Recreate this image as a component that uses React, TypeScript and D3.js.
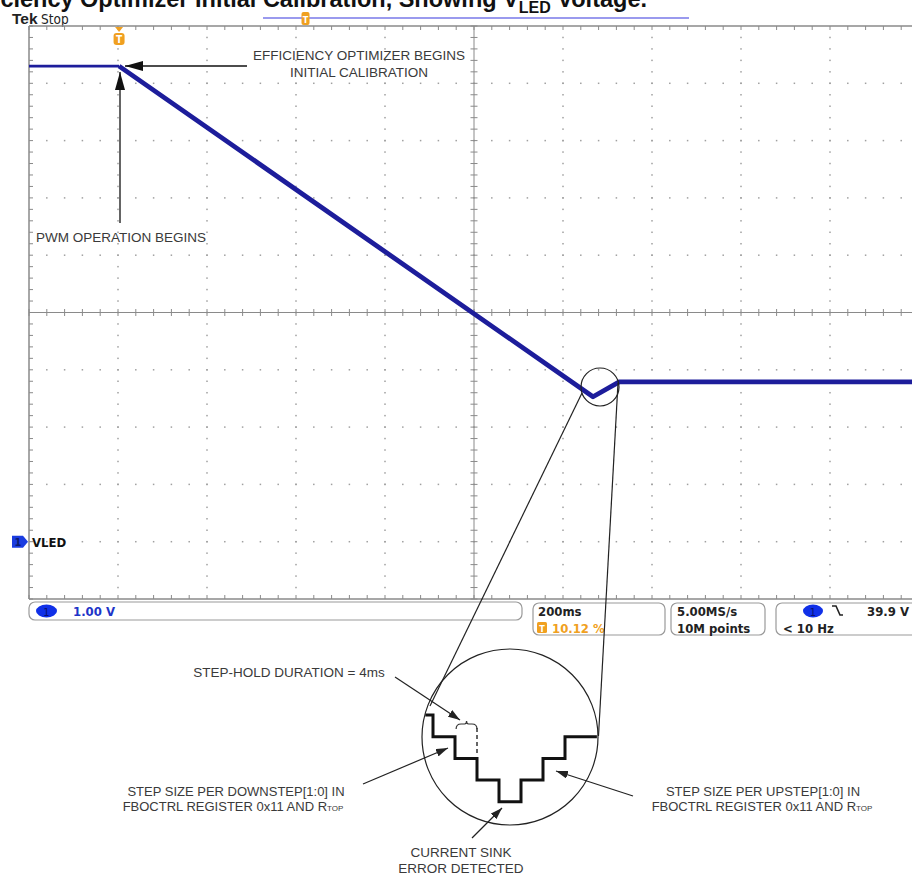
import React from "react";
import * as d3 from "d3";

// ---- data ----
const timePerDiv = 200; // ms
const triggerPercent = 10.12;
const voltsPerDiv = 1.0;
const traceTimes = [-202.4, 0, 1065, 1124, 1797.6]; // ms
const traceVolts = [8.3, 8.3, 2.53, 2.79, 2.79]; // V
const stairEdges = [-0.35, 0, 1, 2, 3, 4, 5, 6, 7.45];
const stairLevels = [0, 1, 2, 3, 4, 3, 2, 1];
const statusLabels = ["1.00 V", "200ms", "10.12 %", "5.00MS/s", "10M points", "39.9 V", "< 10 Hz"];

const ANN = "'Liberation Sans', Arial, sans-serif";
const TEK = "'DejaVu Sans Condensed', 'DejaVu Sans', sans-serif";
const TRACE = "#1d1d9b";
const ORANGE = "#f0a020";
const ANN_COL = "#3a3a3a";

export default function App() {
  const tStart = -(triggerPercent / 100) * timePerDiv * 10;
  const x = d3.scaleLinear().domain([tStart, tStart + timePerDiv * 10]).range([29, 919]);
  const y = d3.scaleLinear().domain([-1 * voltsPerDiv, 9 * voltsPerDiv]).range([599, 26]);

  const majorT = d3.range(0, 11).map((k) => tStart + k * timePerDiv);
  const minorT = d3.range(0, 51).map((j) => tStart + j * timePerDiv / 5);
  const majorV = d3.range(-1, 10);
  const minorV = d3.range(0, 51).map((j) => -1 + j * 0.2);
  const cT = majorT[5];
  const cV = majorV[5];

  const dots: JSX.Element[] = [];
  majorT.forEach((t, k) => {
    if (k === 0 || k === 5 || k === 10) return;
    minorV.forEach((v, j) => {
      if (j === 0 || j === 50) return;
      dots.push(<rect key={`v${k}-${j}`} x={x(t) - 0.75} y={y(v) - 0.75} width={1.5} height={1.5} fill="#a0a0a0" />);
    });
  });
  majorV.forEach((v, k) => {
    if (k === 0 || k === 5 || k === 10) return;
    minorT.forEach((t, j) => {
      if (j === 0 || j === 50) return;
      dots.push(<rect key={`h${k}-${j}`} x={x(t) - 0.75} y={y(v) - 0.75} width={1.5} height={1.5} fill="#a0a0a0" />);
    });
  });

  const ticks: JSX.Element[] = [];
  minorT.forEach((t, j) => {
    ticks.push(<line key={`tt${j}`} x1={x(t)} x2={x(t)} y1={y(9)} y2={y(9) + 4} />);
    ticks.push(<line key={`tb${j}`} x1={x(t)} x2={x(t)} y1={y(-1)} y2={y(-1) - 4} />);
    ticks.push(<line key={`tc${j}`} x1={x(t)} x2={x(t)} y1={y(cV) - 3.5} y2={y(cV) + 3.5} />);
  });
  minorV.forEach((v, j) => {
    ticks.push(<line key={`tl${j}`} x1={x(tStart)} x2={x(tStart) + 4} y1={y(v)} y2={y(v)} />);
    ticks.push(<line key={`tcv${j}`} x1={x(cT) - 3.5} x2={x(cT) + 3.5} y1={y(v)} y2={y(v)} />);
  });

  const pts = traceTimes.map((t, i) => [x(t), y(traceVolts[i])] as [number, number]);
  const line = d3.line();
  const preTrig = line(pts.slice(0, 2)) || "";
  const postTrig = line(pts.slice(1)) || "";

  // inset staircase
  const sx = d3.scaleLinear().domain([0, 1]).range([433, 455]);
  const sy = d3.scaleLinear().domain([0, 1]).range([715, 736.7]);
  const stairPts = stairEdges.map((e, i) => [sx(e), sy(stairLevels[Math.min(i, stairLevels.length - 1)])] as [number, number]);
  const stairPath = d3.line().curve(d3.curveStepAfter)(stairPts) || "";

  const bx1 = sx(1.05), bx2 = sx(2);
  const braceY = sy(0.6);
  const bm = (bx1 + bx2) / 2;
  const brace = `M${bx1},${braceY + 1} Q${bx1},${braceY - 4} ${bx1 + 5},${braceY - 4} L${bm - 2},${braceY - 4} Q${bm},${braceY - 4} ${bm},${braceY - 7} Q${bm},${braceY - 4} ${bm + 2},${braceY - 4} L${bx2 - 5},${braceY - 4} Q${bx2},${braceY - 4} ${bx2},${braceY + 1}`;

  const tx = x(0);

  return (
    <div style={{ position: "absolute", left: 0, top: 0 }}>
      <svg width={912} height={875} style={{ display: "block", background: "#fff" }}>
        <defs>
          <marker id="ahBig" viewBox="0 0 18 10" refX={18} refY={5} markerWidth={18} markerHeight={10} markerUnits="userSpaceOnUse" orient="auto">
            <path d="M0,0 L18,5 L0,10 z" fill="#111" />
          </marker>
          <marker id="ah" viewBox="0 0 12 8" refX={12} refY={4} markerWidth={12} markerHeight={8} markerUnits="userSpaceOnUse" orient="auto">
            <path d="M0,0 L12,4 L0,8 z" fill="#222" />
          </marker>
        </defs>

        {/* title (cropped at top) */}
        <text x={647} y={6.5} textAnchor="end" fontFamily={ANN} fontWeight="bold" fontSize={23.5} fill="#111">
          Efficiency Optimizer Initial Calibration, Showing V
          <tspan fontSize={16} dy={6}>LED</tspan>
          <tspan dy={-6}> Voltage.</tspan>
        </text>

        {/* Tek Stop */}
        <text x={12} y={24} fontFamily={ANN} fontWeight="bold" fontSize={15.5} fill="#222">Tek</text>
        <text x={41} y={24} fontFamily={TEK} fontSize={13.5} fill="#222">Stop</text>
        <line x1={263} x2={689} y1={18} y2={18} stroke="#9a9aee" strokeWidth={2} />
        <rect x={301.5} y={12} width={8} height={13} rx={2} fill={ORANGE} />
        <text x={305.5} y={23} textAnchor="middle" fontFamily={TEK} fontSize={9} fontWeight="bold" fill="#fff">T</text>

        {/* graticule */}
        {dots}
        <g stroke="#8a8a8a" strokeWidth={1}>
          {ticks}
          <line x1={x(cT)} x2={x(cT)} y1={y(9)} y2={y(-1)} />
          <line x1={x(tStart)} x2={919} y1={y(cV)} y2={y(cV)} />
          <line x1={x(tStart)} x2={919} y1={y(9)} y2={y(9)} strokeWidth={1.5} />
          <line x1={x(tStart)} x2={919} y1={y(-1)} y2={y(-1)} strokeWidth={1.5} />
          <line x1={x(tStart)} x2={x(tStart)} y1={y(9)} y2={y(-1)} strokeWidth={1.5} />
        </g>

        {/* trigger marker */}
        <path d={`M${tx - 4},${y(9) + 1} L${tx + 4},${y(9) + 1} L${tx},${y(9) + 6} z`} fill={ORANGE} />
        <rect x={tx - 5.5} y={33} width={11} height={12} rx={3} fill={ORANGE} />
        <text x={tx} y={43} textAnchor="middle" fontFamily={TEK} fontSize={10} fontWeight="bold" fill="#fff">T</text>

        {/* trace */}
        <path d={preTrig} fill="none" stroke={TRACE} strokeWidth={2.6} />
        <path d={postTrig} fill="none" stroke={TRACE} strokeWidth={4.8} strokeLinejoin="round" />

        {/* VLED marker */}
        <path d={`M12,${y(0) - 6} h11 l5,6 l-5,6 h-11 z`} fill="#1a3ce0" />
        <text x={18} y={y(0) + 4} textAnchor="middle" fontFamily={TEK} fontSize={11} fontWeight="bold" fill="#0a1a70">1</text>
        <text x={32} y={y(0) + 5} fontFamily={TEK} fontSize={13} fontWeight="bold" fill="#111">VLED</text>

        {/* annotations on scope */}
        <line x1={247} x2={125} y1={66} y2={66} stroke="#111" strokeWidth={1.3} markerEnd="url(#ahBig)" />
        <line x1={120} x2={120} y1={223} y2={72} stroke="#111" strokeWidth={1.3} markerEnd="url(#ahBig)" />
        <g fontFamily={ANN} fontSize={13.5} fill={ANN_COL} textAnchor="middle">
          <text x={359} y={60}>EFFICIENCY OPTIMIZER BEGINS</text>
          <text x={359} y={77}>INITIAL CALIBRATION</text>
        </g>
        <text x={36} y={242} fontFamily={ANN} fontSize={13.5} fill={ANN_COL}>PWM OPERATION BEGINS</text>

        {/* status bar */}
        <g fill="#fff" stroke="#9a9a9a" strokeWidth={1.2}>
          <rect x={29} y={602} width={493} height={18} rx={6} />
          <rect x={533} y={603} width={132} height={32} rx={6} />
          <rect x={671} y={603} width={94} height={32} rx={6} />
          <rect x={776} y={603} width={150} height={32} rx={6} />
        </g>
        <ellipse cx={46.5} cy={611} rx={10.5} ry={6.5} fill="#1030e8" />
        <text x={46.5} y={615.5} textAnchor="middle" fontFamily={TEK} fontSize={11} fill="#0a1070">1</text>
        <g fontFamily={TEK} fontSize={13} fontWeight="bold">
          <text x={73} y={616} fill="#2034c8">{statusLabels[0]}</text>
          <text x={538} y={616} fill="#222">{statusLabels[1]}</text>
          <text x={552} y={633} fill={ORANGE}>{statusLabels[2]}</text>
          <text x={677} y={616} fill="#222">{statusLabels[3]}</text>
          <text x={677} y={633} fill="#222">{statusLabels[4]}</text>
          <text x={867} y={616} fill="#222">{statusLabels[5]}</text>
          <text x={783} y={633} fill="#222">{statusLabels[6]}</text>
        </g>
        <rect x={537} y={622} width={10} height={11} rx={1.5} fill={ORANGE} />
        <text x={542} y={631.5} textAnchor="middle" fontFamily={TEK} fontSize={9} fontWeight="bold" fill="#fff">T</text>
        <ellipse cx={813} cy={611} rx={10} ry={6.5} fill="#1030e8" />
        <text x={813} y={615.5} textAnchor="middle" fontFamily={TEK} fontSize={11} fill="#0a1070">1</text>
        <path d="M832,606 h4 l4,9 h3" fill="none" stroke="#222" strokeWidth={1.6} />

        {/* zoom lines and circles */}
        <g fill="none" stroke="#222" strokeWidth={1.2}>
          <circle cx={600} cy={387} r={19} />
          <line x1={582} y1={393} x2={430} y2={706} />
          <line x1={618} y1={383} x2={598.5} y2={736} />
          <circle cx={510} cy={737} r={88} />
        </g>

        {/* inset staircase */}
        <path d={stairPath} fill="none" stroke="#111" strokeWidth={3} strokeLinejoin="miter" />
        <line x1={bx2} x2={bx2} y1={braceY} y2={sy(1.75)} stroke="#333" strokeWidth={1.5} strokeDasharray="4,3" />
        <path d={brace} fill="none" stroke="#333" strokeWidth={1.2} />

        {/* inset annotations */}
        <g stroke="#222" strokeWidth={1.2}>
          <line x1={395} y1={677} x2={460} y2={720} markerEnd="url(#ah)" />
          <line x1={363} y1={784} x2={448} y2={748} markerEnd="url(#ah)" />
          <line x1={633} y1={796} x2={556} y2={771} markerEnd="url(#ah)" />
          <line x1={472} y1={838} x2={502} y2={808} markerEnd="url(#ah)" />
        </g>
        <g fontFamily={ANN} fontSize={13} fill={ANN_COL} textAnchor="middle">
          <text x={289} y={677} fontSize={13.5}>STEP-HOLD DURATION = 4ms</text>
          <text x={236} y={796}>STEP SIZE PER DOWNSTEP[1:0] IN</text>
          <text x={233} y={811}>
            FBOCTRL REGISTER 0x11 AND R<tspan fontSize={8}>TOP</tspan>
          </text>
          <text x={763} y={796}>STEP SIZE PER UPSTEP[1:0] IN</text>
          <text x={762} y={811}>
            FBOCTRL REGISTER 0x11 AND R<tspan fontSize={8}>TOP</tspan>
          </text>
          <text x={461} y={857} fontSize={13.5}>CURRENT SINK</text>
          <text x={461} y={873} fontSize={13.5}>ERROR DETECTED</text>
        </g>
      </svg>
    </div>
  );
}
